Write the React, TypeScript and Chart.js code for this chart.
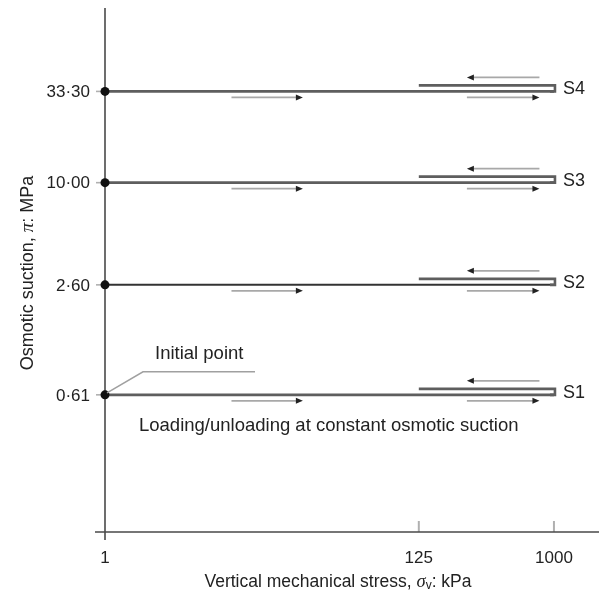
import { useEffect, useRef } from 'react';
import { Chart, registerables } from 'chart.js';

Chart.register(...registerables);

// Osmotic suction levels (MPa) and their tick labels
const suctionLevels = [0.61, 2.6, 10, 33.3];
const suctionTickLabels = ['0·61', '2·60', '10·00', '33·30'];
const specimenNames = ['S1', 'S2', 'S3', 'S4'];

// Vertical stress (kPa)
const stressTicks = [1, 125, 1000];
const stressTickLabels = ['1', '125', '1000'];
const initialStress = 1;
const peakStress = 1000;
const unloadStress = 125;
const loadingArrowStress = [7, 21];
const cycleArrowStress = [262, 800];

const FONT = '"Liberation Sans", Arial, sans-serif';
const SERIF = '"Liberation Serif", "DejaVu Serif", serif';
const TEXT = '#222';

type Part = { text: string; font: string; dy?: number };

function drawRich(ctx: CanvasRenderingContext2D, parts: Part[], cx: number, cy: number) {
  let total = 0;
  for (const p of parts) {
    ctx.font = p.font;
    total += ctx.measureText(p.text).width;
  }
  let x = cx - total / 2;
  ctx.textAlign = 'left';
  ctx.textBaseline = 'middle';
  for (const p of parts) {
    ctx.font = p.font;
    ctx.fillText(p.text, x, cy + (p.dy || 0));
    x += ctx.measureText(p.text).width;
  }
}

function arrow(ctx: CanvasRenderingContext2D, x1: number, x2: number, y: number) {
  const dir = x2 > x1 ? 1 : -1;
  ctx.strokeStyle = '#a8a8a8';
  ctx.lineWidth = 1.6;
  ctx.beginPath();
  ctx.moveTo(x1, y);
  ctx.lineTo(x2 - dir * 4, y);
  ctx.stroke();
  ctx.fillStyle = '#222';
  ctx.beginPath();
  ctx.moveTo(x2, y);
  ctx.lineTo(x2 - dir * 7, y - 3);
  ctx.lineTo(x2 - dir * 7, y + 3);
  ctx.closePath();
  ctx.fill();
}

const schematicPlugin = {
  id: 'schematic',
  beforeDatasetsDraw(chart: any) {
    const { ctx, chartArea, scales } = chart;
    const xS = scales.x;
    const yS = scales.y;
    const x0 = xS.getPixelForValue(initialStress);
    const yBottom = chartArea.bottom;
    ctx.save();
    // tick marks
    ctx.strokeStyle = '#b0b0b0';
    ctx.lineWidth = 1.6;
    suctionLevels.forEach((s) => {
      const y = yS.getPixelForValue(s);
      ctx.beginPath();
      ctx.moveTo(x0 - 9, y);
      ctx.lineTo(x0, y);
      ctx.stroke();
    });
    ctx.lineWidth = 2;
    stressTicks.slice(1).forEach((v) => {
      const x = xS.getPixelForValue(v);
      ctx.beginPath();
      ctx.moveTo(x, yBottom - 11);
      ctx.lineTo(x, yBottom);
      ctx.stroke();
    });
    // axes
    ctx.strokeStyle = '#4a4a4a';
    ctx.lineWidth = 1.6;
    ctx.beginPath();
    ctx.moveTo(x0, chartArea.top);
    ctx.lineTo(x0, yBottom + 8);
    ctx.moveTo(x0 - 10, yBottom);
    ctx.lineTo(chartArea.right, yBottom);
    ctx.stroke();

    // tick labels
    ctx.fillStyle = TEXT;
    ctx.font = `17px ${FONT}`;
    ctx.textAlign = 'right';
    ctx.textBaseline = 'middle';
    suctionLevels.forEach((s, i) => {
      ctx.fillText(suctionTickLabels[i], x0 - 15, yS.getPixelForValue(s) + 1);
    });
    ctx.textAlign = 'center';
    stressTicks.forEach((v, i) => {
      ctx.fillText(stressTickLabels[i], xS.getPixelForValue(v), yBottom + 26);
    });

    // axis titles
    drawRich(
      ctx,
      [
        { text: 'Vertical mechanical stress, ', font: `17.5px ${FONT}` },
        { text: 'σ', font: `italic 18.5px ${SERIF}` },
        { text: 'v', font: `12px ${FONT}`, dy: 4 },
        { text: ': kPa', font: `17.5px ${FONT}` },
      ],
      (chartArea.left + chartArea.right) / 2 - 14,
      yBottom + 50
    );
    ctx.save();
    ctx.translate(28, (chartArea.top + chartArea.bottom) / 2 + 3);
    ctx.rotate(-Math.PI / 2);
    drawRich(
      ctx,
      [
        { text: 'Osmotic suction, ', font: `18px ${FONT}` },
        { text: 'π', font: `italic 19px ${SERIF}` },
        { text: ': MPa', font: `18px ${FONT}` },
      ],
      0,
      0
    );
    ctx.restore();
    ctx.restore();
  },
  afterDatasetsDraw(chart: any) {
    const { ctx, scales } = chart;
    const xS = scales.x;
    const yS = scales.y;
    const x0 = xS.getPixelForValue(initialStress);
    const xPeak = xS.getPixelForValue(peakStress);
    const xUnload = xS.getPixelForValue(unloadStress);
    ctx.save();
    suctionLevels.forEach((s, i) => {
      const y = yS.getPixelForValue(s);
      // unloading return path
      ctx.strokeStyle = '#5e5e5e';
      ctx.lineWidth = 2.6;
      ctx.lineJoin = 'miter';
      ctx.beginPath();
      ctx.moveTo(xPeak - 4, y);
      ctx.lineTo(xPeak + 1, y);
      ctx.lineTo(xPeak + 1, y - 6);
      ctx.lineTo(xUnload, y - 6);
      ctx.stroke();
      // direction arrows
      arrow(ctx, xS.getPixelForValue(loadingArrowStress[0]), xS.getPixelForValue(loadingArrowStress[1]), y + 6);
      arrow(ctx, xS.getPixelForValue(cycleArrowStress[0]), xS.getPixelForValue(cycleArrowStress[1]), y + 6);
      arrow(ctx, xS.getPixelForValue(cycleArrowStress[1]), xS.getPixelForValue(cycleArrowStress[0]), y - 14);
      // specimen label
      ctx.fillStyle = TEXT;
      ctx.font = `18px ${FONT}`;
      ctx.textAlign = 'left';
      ctx.textBaseline = 'middle';
      ctx.fillText(specimenNames[i], xPeak + 9, y - 2);
    });

    // initial point annotation
    const yInit = yS.getPixelForValue(suctionLevels[0]);
    ctx.strokeStyle = '#a0a0a0';
    ctx.lineWidth = 1.5;
    ctx.beginPath();
    ctx.moveTo(x0 + 2, yInit - 2);
    ctx.lineTo(x0 + 38, yInit - 23);
    ctx.lineTo(x0 + 150, yInit - 23);
    ctx.stroke();
    ctx.fillStyle = TEXT;
    ctx.font = `18.5px ${FONT}`;
    ctx.textAlign = 'left';
    ctx.textBaseline = 'middle';
    ctx.fillText('Initial point', x0 + 50, yInit - 41);
    ctx.fillText('Loading/unloading at constant osmotic suction', x0 + 34, yInit + 31);
    ctx.restore();
  },
};

export default function App() {
  const canvasRef = useRef<HTMLCanvasElement>(null);

  useEffect(() => {
    const canvas = canvasRef.current;
    if (!canvas) return;
    const chart = new Chart(canvas, {
      type: 'scatter',
      data: {
        datasets: suctionLevels.map((s, i) => ({
          label: specimenNames[i],
          data: [
            { x: initialStress, y: s },
            { x: peakStress, y: s },
          ],
          showLine: true,
          borderColor: i === 1 ? '#333' : '#5e5e5e',
          borderWidth: i === 1 ? 2 : 2.6,
          pointRadius: [4.5, 0],
          pointBackgroundColor: '#111',
          pointBorderWidth: 0,
          clip: false as any,
        })),
      },
      options: {
        animation: false,
        responsive: false,
        devicePixelRatio: 1,
        layout: { padding: { left: 105, right: 6, top: 8, bottom: 60 } },
        scales: {
          x: { type: 'logarithmic', min: 1, max: 2000, display: false },
          y: { type: 'logarithmic', min: 0.1, max: 100, display: false },
        },
        plugins: { legend: { display: false }, tooltip: { enabled: false } },
      },
      plugins: [schematicPlugin],
    });
    return () => chart.destroy();
  }, []);

  return (
    <div style={{ position: 'fixed', left: 0, top: 0, width: 605, height: 592, background: '#fff' }}>
      <canvas ref={canvasRef} width={605} height={592} />
    </div>
  );
}
